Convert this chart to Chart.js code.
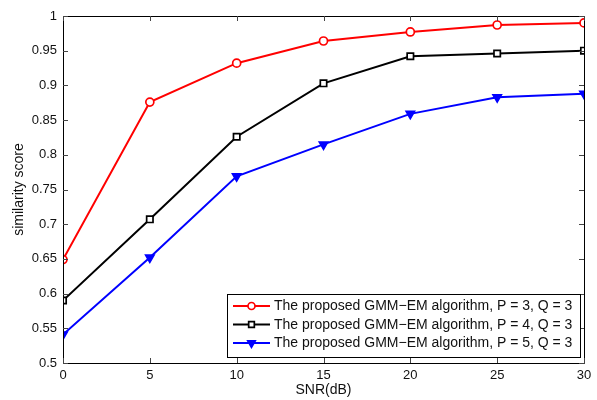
<!DOCTYPE html>
<html>
<head>
<meta charset="utf-8">
<script src="https://cdn.jsdelivr.net/npm/chart.js@4.4.1/dist/chart.umd.min.js"></script>
<style>
  html, body { margin: 0; padding: 0; background: #fff; }
  #wrap { width: 597px; height: 400px; }
</style>
</head>
<body>
<div id="wrap"><canvas id="chart" width="597" height="400"></canvas></div>
<script>
const snr = [0, 5, 10, 15, 20, 25, 30];
const p3 = [0.649, 0.876, 0.932, 0.964, 0.977, 0.987, 0.990];
const p4 = [0.590, 0.707, 0.826, 0.903, 0.942, 0.946, 0.950];
const p5 = [0.541, 0.652, 0.769, 0.815, 0.859, 0.883, 0.888];
const labels = [
    'The proposed GMM\u2212EM algorithm, P = 3, Q = 3',
    'The proposed GMM\u2212EM algorithm, P = 4, Q = 3',
    'The proposed GMM\u2212EM algorithm, P = 5, Q = 3'
];

const FONT = 'Liberation Sans, Arial, Helvetica, sans-serif';

function pts(ys) {
    return snr.map((x, i) => ({ x: x, y: ys[i] }));
}

// box, inward ticks and legend drawn like the MATLAB figure
const matlabFrame = {
    id: 'matlabFrame',
    afterDatasetsDraw(chart) {
        const ctx = chart.ctx;
        const a = chart.chartArea;
        const xs = chart.scales.x, ys = chart.scales.y;
        ctx.save();
        ctx.strokeStyle = '#000';
        ctx.lineWidth = 1;
        ctx.beginPath();
        ctx.rect(Math.round(a.left) + 0.5, Math.round(a.top) + 0.5, Math.round(a.right - a.left), Math.round(a.bottom - a.top));
        ctx.stroke();
        ctx.strokeStyle = '#444';
        ctx.beginPath();
        xs.ticks.forEach(t => {
            const px = Math.round(xs.getPixelForValue(t.value)) + 0.5;
            ctx.moveTo(px, a.bottom); ctx.lineTo(px, a.bottom - 5);
            ctx.moveTo(px, a.top); ctx.lineTo(px, a.top + 5);
        });
        ys.ticks.forEach(t => {
            const py = Math.round(ys.getPixelForValue(t.value)) + 0.5;
            ctx.moveTo(a.left, py); ctx.lineTo(a.left + 5, py);
            ctx.moveTo(a.right, py); ctx.lineTo(a.right - 5, py);
        });
        ctx.stroke();
        ctx.restore();
    },
    afterDraw(chart) {
        const ctx = chart.ctx;
        const a = chart.chartArea;
        const sets = chart.data.datasets;
        const boxR = a.right - 4, boxB = a.bottom - 7;
        const boxW = 353, rowH = 18.5, boxH = sets.length * rowH + 7;
        const boxL = boxR - boxW, boxT = boxB - boxH;
        ctx.save();
        ctx.fillStyle = '#fff';
        ctx.fillRect(boxL, boxT, boxW, boxH);
        ctx.strokeStyle = '#000';
        ctx.lineWidth = 1;
        ctx.strokeRect(Math.round(boxL) + 0.5, Math.round(boxT) + 0.5, Math.round(boxW), Math.round(boxH));
        ctx.font = '14px ' + FONT;
        ctx.textBaseline = 'middle';
        sets.forEach((ds, i) => {
            const cy = boxT + 12.5 + i * rowH;
            ctx.strokeStyle = ds.borderColor;
            ctx.lineWidth = 2;
            ctx.beginPath();
            ctx.moveTo(boxL + 6, cy); ctx.lineTo(boxL + 43, cy);
            ctx.stroke();
            ctx.fillStyle = ds.pointBackgroundColor;
            ctx.strokeStyle = ds.borderColor;
            ctx.lineWidth = ds.pointBorderWidth;
            Chart.helpers.drawPoint(ctx, {
                pointStyle: ds.pointStyle,
                radius: ds.pointRadius - 0.5,
                rotation: ds.pointRotation || 0,
                borderWidth: ds.pointBorderWidth
            }, boxL + 24.5, cy);
            ctx.fillStyle = '#111';
            ctx.textAlign = 'left';
            ctx.fillText(ds.label, boxL + 47, cy + 0.5);
        });
        ctx.restore();
    }
};

const ctx = document.getElementById('chart').getContext('2d');
new Chart(ctx, {
    type: 'line',
    data: {
        datasets: [
            {
                label: labels[0], data: pts(p3),
                borderColor: '#ff0000', backgroundColor: '#ffffff', pointBackgroundColor: '#ffffff',
                borderWidth: 2, pointStyle: 'circle', pointRadius: 4, pointBorderWidth: 1.7
            },
            {
                label: labels[1], data: pts(p4),
                borderColor: '#000000', backgroundColor: '#ffffff', pointBackgroundColor: '#ffffff',
                borderWidth: 2, pointStyle: 'rect', pointRadius: 4.5, pointBorderWidth: 1.7
            },
            {
                label: labels[2], data: pts(p5),
                borderColor: '#0000ff', backgroundColor: '#0000ff', pointBackgroundColor: '#0000ff',
                borderWidth: 2, pointStyle: 'triangle', pointRotation: 180, pointRadius: 5, pointBorderWidth: 1.5
            }
        ]
    },
    options: {
        responsive: false,
        animation: false,
        layout: { padding: { left: 0, right: 13, top: 16, bottom: 0 } },
        plugins: { legend: { display: false }, tooltip: { enabled: false } },
        scales: {
            x: {
                type: 'linear', min: 0, max: 30,
                afterFit: s => { s.height = 37; },
                grid: { display: false, drawTicks: false },
                border: { display: false },
                ticks: { stepSize: 5, color: '#111', padding: 5, font: { family: FONT, size: 13 } },
                title: { display: true, text: 'SNR(dB)', color: '#111', padding: { top: 0, bottom: 1 }, font: { family: FONT, size: 14 } }
            },
            y: {
                type: 'linear', min: 0.5, max: 1,
                afterFit: s => { s.width = 63; },
                grid: { display: false, drawTicks: false },
                border: { display: false },
                ticks: {
                    stepSize: 0.05, color: '#111', padding: 6, font: { family: FONT, size: 13 },
                    callback: v => String(parseFloat(v.toFixed(2)))
                },
                title: { display: true, text: 'similarity score', color: '#111', padding: { top: 11, bottom: 0 }, font: { family: FONT, size: 14 } }
            }
        }
    },
    plugins: [matlabFrame]
});
</script>
</body>
</html>
